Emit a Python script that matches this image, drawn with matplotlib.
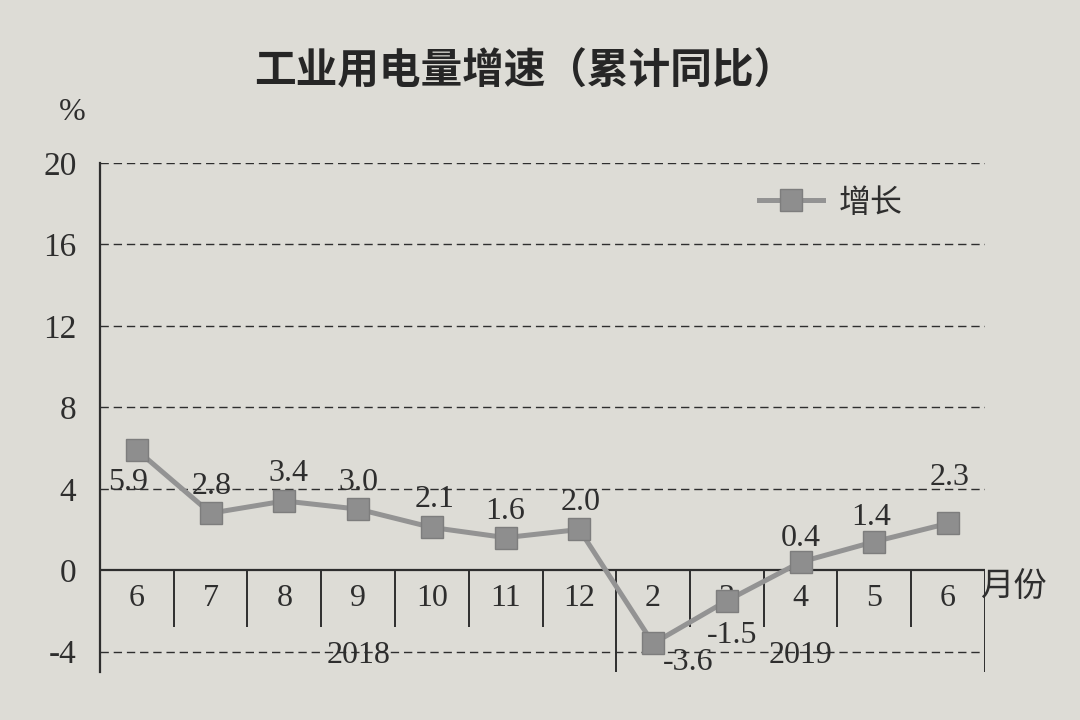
"""
Recreate the printed chart "工业用电量增速（累计同比）" as out.png.
"""

import matplotlib.pyplot as plt

plt.rcParams["font.family"] = ["Liberation Serif", "Noto Sans CJK SC", "DejaVu Sans"]

TITLE = "工业用电量增速（累计同比）"
MONTHS = ["6", "7", "8", "9", "10", "11", "12", "2", "3", "4", "5", "6"]
YEARS = ["2018", "2019"]
YEAR_SPANS = [7, 5]  # number of months under each year
GROWTH = [5.9, 2.8, 3.4, 3.0, 2.1, 1.6, 2.0, -3.6, -1.5, 0.4, 1.4, 2.3]
Y_TICKS = [-4, 0, 4, 8, 12, 16, 20]

# label offsets in pixels (dx, dy), up is positive
LABEL_OFFSETS = [(-9, -32), (1, 27), (4, 27), (0, 27), (3, 28), (0, 26), (1, 27),
                 (35, -19), (5, -35), (0, 24), (-3, 24), (2, 46)]

BG = "#dddcd6"
INK = "#2e2e2e"


def main():
    fig = plt.figure(figsize=(10.8, 7.2), dpi=100, facecolor=BG)
    ax = fig.add_axes([100 / 1080, 48 / 720, 885 / 1080, 509 / 720])
    ax.set_facecolor(BG)

    n = len(MONTHS)
    x = list(range(n))
    ax.set_xlim(-0.5, n - 0.5)
    ax.set_ylim(-5, 20)

    # dashed grid (no line at 0, that one is solid)
    for t in Y_TICKS:
        if t != 0:
            ax.axhline(t, color=INK, lw=1.0, ls=(0, (6, 3.5)), zorder=1)
    ax.axhline(0, color=INK, lw=1.6, zorder=2)

    # month table dividers
    bounds = [i + 0.5 for i in range(n - 1)]
    year_break = YEAR_SPANS[0] - 0.5
    for b in bounds:
        if b == year_break:
            ax.vlines(b, -5, 0, color=INK, lw=1.4, zorder=2)
        else:
            ax.vlines(b, -2.8, 0, color=INK, lw=1.4, zorder=2)
    ax.vlines(n - 0.5, -5, 0, color=INK, lw=1.4, zorder=2)

    for i, m in enumerate(MONTHS):
        ax.text(i, -1.4, m, ha="center", va="center", fontsize=23, color=INK, zorder=3)

    start = 0
    for yr, span in zip(YEARS, YEAR_SPANS):
        ax.text(start + (span - 1) / 2, -4.2, yr, ha="center", va="center",
                fontsize=23, color=INK, zorder=3)
        start += span

    ax.plot(x, GROWTH, color="#939393", lw=3.6, marker="s", markersize=16,
            markerfacecolor="#8e8e8e", markeredgecolor="#7d7d7d", label="增长", zorder=4)

    for i, (v, (dx, dy)) in enumerate(zip(GROWTH, LABEL_OFFSETS)):
        ax.annotate(f"{v:.1f}", (i, v), xytext=(dx, dy), textcoords="offset pixels",
                    ha="center", va="center", fontsize=23, color=INK, zorder=5)

    ax.set_yticks(Y_TICKS)
    ax.set_yticklabels([str(t) for t in Y_TICKS], fontsize=24, color=INK)
    ax.tick_params(axis="y", length=0, pad=17)
    ax.set_xticks([])

    for side in ("top", "right", "bottom"):
        ax.spines[side].set_visible(False)
    ax.spines["left"].set_color(INK)
    ax.spines["left"].set_linewidth(1.6)

    leg = ax.legend(loc="center left", bbox_to_anchor=(0.712, 0.92), frameon=False,
                    handlelength=2.0, fontsize=23, handletextpad=0.5)
    for t in leg.get_texts():
        t.set_color(INK)

    fig.text(525 / 1080, 1 - 72 / 720, TITLE, ha="center", va="center", fontsize=30,
             fontweight="bold", color="#262626", family=["Noto Sans CJK SC"])
    fig.text(72 / 1080, 1 - 113 / 720, "%", ha="center", va="center", fontsize=23,
             color=INK)
    fig.text(1013 / 1080, 1 - 586 / 720, "月份", ha="center", va="center", fontsize=24,
             color=INK, family=["Noto Sans CJK SC"])

    fig.savefig("out.png", dpi=100, facecolor=BG)
    plt.close(fig)


if __name__ == "__main__":
    main()
